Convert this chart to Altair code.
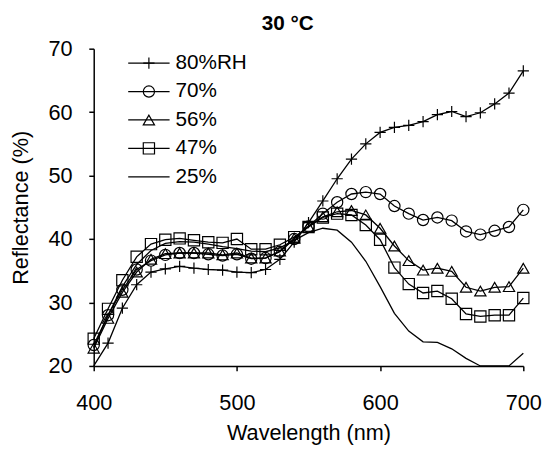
import altair as alt
import pandas as pd

wavelength = list(range(400, 701, 10))

rh80 = [18.0, 23.6, 29.1, 32.8, 34.8, 35.3, 35.7, 35.4, 35.2, 35.1, 34.8,
        34.7, 35.2, 36.8, 39.5, 42.6, 46.0, 49.5, 52.6, 55.0, 56.8,
        57.6, 57.9, 58.5, 59.6, 60.1, 59.3, 59.9, 61.3, 63.0, 66.5]
rh70 = [23.3, 28.0, 32.0, 35.2, 36.6, 37.5, 37.8, 37.8, 37.6, 37.4, 37.6,
        36.9, 37.0, 38.0, 40.0, 42.0, 44.0, 45.8, 47.1, 47.4, 47.1,
        45.2, 44.0, 43.0, 43.4, 42.9, 41.2, 40.7, 41.3, 41.9, 44.6]
rh56 = [22.8, 27.5, 31.6, 34.8, 36.8, 37.7, 37.8, 37.8, 37.8, 37.5, 37.8,
        37.0, 37.0, 38.1, 40.1, 42.0, 43.5, 44.3, 44.5, 43.8, 41.7,
        38.9, 36.6, 35.1, 35.4, 34.9, 32.4, 31.8, 32.4, 32.5, 35.4]
rh47 = [24.3, 29.0, 33.5, 37.2, 39.2, 39.9, 40.1, 39.8, 39.5, 39.4, 40.0,
        38.4, 38.4, 39.1, 40.3, 41.9, 43.4, 44.0, 43.8, 42.2, 39.9,
        35.5, 32.9, 31.5, 31.8, 30.6, 28.2, 27.8, 28.0, 28.0, 30.7]
rh25 = [23.0, 28.0, 32.5, 36.0, 38.2, 39.3, 39.6, 39.5, 39.2, 38.8, 38.5,
        38.1, 38.0, 38.6, 39.8, 41.0, 41.7, 41.4, 39.5, 36.5, 32.5,
        28.3, 25.5, 23.8, 23.7, 22.7, 21.2, 20.0, 19.9, 20.0, 22.0]

series_names = ["80%RH", "70%", "56%", "47%", "25%"]
marker_series = ["80%RH", "70%", "56%", "47%"]
marker_shapes = ["M-1,0H1M0,-1V1", "circle", "triangle-up", "square"]

x_ticks = [400, 500, 600, 700]
y_ticks = [20, 30, 40, 50, 60, 70]

rows = []
for name, vals in zip(series_names, [rh80, rh70, rh56, rh47, rh25]):
    for w, v in zip(wavelength, vals):
        rows.append({"series": name, "wavelength": w, "value": v})
df = pd.DataFrame(rows)
legend_df = pd.DataFrame({"series": series_names})

FONT = "Liberation Sans"
AX = "black"

x_scale = alt.Scale(domain=[x_ticks[0], x_ticks[-1]], nice=False)
x_axis = alt.Axis(values=x_ticks, title="Wavelength (nm)",
                  labelPadding=22, titlePadding=10, domain=True, ticks=True,
                  domainColor=AX, tickColor=AX, domainWidth=1.5, tickWidth=1.5,
                  tickSize=5, labelFlush=False)
y_scale = alt.Scale(domain=[y_ticks[0], y_ticks[-1]], nice=False, clamp=True)
y_axis = alt.Axis(values=y_ticks, title="Reflectance (%)",
                  labelPadding=17, titlePadding=16, domain=True, ticks=True,
                  domainColor=AX, tickColor=AX, domainWidth=1.5, tickWidth=1.5,
                  tickSize=5, labelFlush=False)

X = alt.X("wavelength:Q", scale=x_scale, axis=x_axis)
Y = alt.Y("value:Q", scale=y_scale, axis=y_axis)

lines = alt.Chart(df).mark_line(color="black", strokeWidth=1.3).encode(
    x=X, y=Y, detail="series:N",
)

points = alt.Chart(df).transform_filter(
    alt.FieldOneOfPredicate(field="series", oneOf=marker_series)
).transform_filter(
    alt.datum.value >= 20
).mark_point(filled=False, color="black", strokeWidth=1.2, size=130, opacity=1).encode(
    x=X, y=Y,
    shape=alt.Shape("series:N", scale=alt.Scale(domain=marker_series, range=marker_shapes),
                    legend=None),
)

data_layer = alt.layer(lines, points)

leg_y = alt.Y("series:N", axis=None,
              scale=alt.Scale(type="point", domain=series_names, range=[14.7, 130], padding=0))

leg_rule = alt.Chart(legend_df).mark_rule(color="black", strokeWidth=1.3).encode(
    x=alt.value(35), x2=alt.value(77), y=leg_y,
)
leg_pts = alt.Chart(legend_df).transform_filter(
    alt.FieldOneOfPredicate(field="series", oneOf=marker_series)
).mark_point(filled=False, color="black", strokeWidth=1.2, size=130, opacity=1).encode(
    x=alt.value(56), y=leg_y,
    shape=alt.Shape("series:N", scale=alt.Scale(domain=marker_series, range=marker_shapes),
                    legend=None),
)
leg_text = alt.Chart(legend_df).mark_text(
    align="left", baseline="middle", fontSize=21, font=FONT, color="black"
).encode(x=alt.value(83), y=leg_y, text="series:N")

legend_layer = alt.layer(leg_rule, leg_pts, leg_text)

chart = alt.layer(data_layer, legend_layer).resolve_scale(
    y="independent"
).properties(
    width=436, height=322,
    title=alt.TitleParams("30 °C", fontSize=21, font=FONT, fontWeight="bold",
                          anchor="middle", dx=-21, dy=20, offset=7, baseline="alphabetic",
                          color="black"),
    autosize=alt.AutoSizeParams(type="none"),
    padding={"left": 87, "top": 38, "right": 21, "bottom": 81},
).configure_title(
    fontSize=21, font=FONT, fontWeight="bold", color="black"
).configure_axis(
    grid=False, labelFont=FONT, titleFont=FONT, labelFontSize=22, titleFontSize=22,
    titleFontWeight="normal", labelColor="black", titleColor="black",
).configure_view(strokeWidth=0)

chart.save("out.html", embed_options={"renderer": "svg", "actions": False})
